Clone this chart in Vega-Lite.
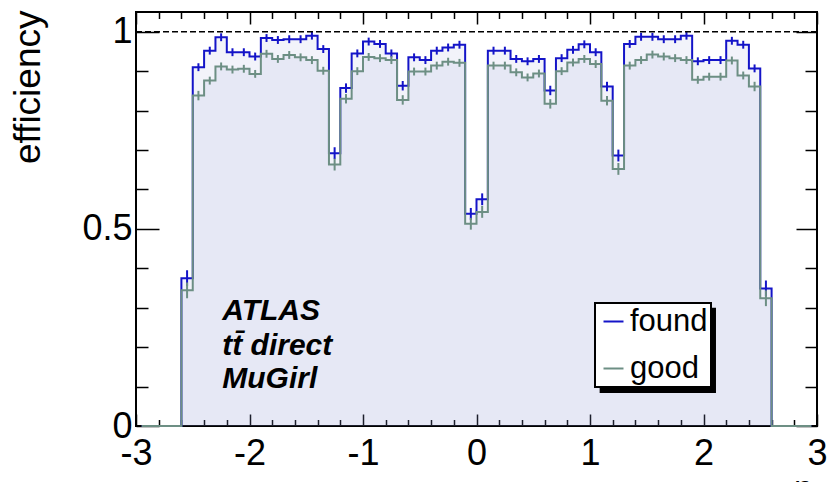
{
  "$schema": "https://vega.github.io/schema/vega-lite/v6.json",
  "width": 681,
  "height": 414,
  "autosize": {"type": "none"},
  "padding": {"left": 136, "top": 12, "right": 12, "bottom": 56},
  "background": "white",
  "config": {
    "view": {"stroke": "black", "strokeWidth": 2},
    "axis": {
      "domain": false,
      "grid": false,
      "tickColor": "black",
      "tickWidth": 1.5,
      "labelFont": "Liberation Sans",
      "labelFontSize": 36,
      "labelColor": "black",
      "labelFlush": false,
      "labelOverlap": false,
      "titleFont": "Liberation Sans",
      "titleFontWeight": "normal",
      "titleColor": "black"
    },
    "legend": {
      "orient": "none",
      "legendX": 459,
      "legendY": 291,
      "symbolType": "stroke",
      "symbolSize": 400,
      "symbolStrokeWidth": 2,
      "labelFont": "Liberation Sans",
      "labelFontSize": 31,
      "labelColor": "black",
      "labelOffset": 1,
      "padding": 3,
      "rowPadding": 15,
      "strokeColor": "black",
      "strokeWidth": 2,
      "fillColor": "white"
    }
  },
  "data": {
    "values": [
      {"eta": -2.95, "series": "found", "eff": 0, "err": 0},
      {"eta": -2.85, "series": "found", "eff": 0, "err": 0},
      {"eta": -2.75, "series": "found", "eff": 0, "err": 0},
      {"eta": -2.65, "series": "found", "eff": 0, "err": 0},
      {"eta": -2.55, "series": "found", "eff": 0.375, "err": 0.02},
      {"eta": -2.45, "series": "found", "eff": 0.910, "err": 0.01},
      {"eta": -2.35, "series": "found", "eff": 0.952, "err": 0.01},
      {"eta": -2.25, "series": "found", "eff": 0.986, "err": 0.01},
      {"eta": -2.15, "series": "found", "eff": 0.948, "err": 0.01},
      {"eta": -2.05, "series": "found", "eff": 0.948, "err": 0.01},
      {"eta": -1.95, "series": "found", "eff": 0.937, "err": 0.01},
      {"eta": -1.85, "series": "found", "eff": 0.984, "err": 0.01},
      {"eta": -1.75, "series": "found", "eff": 0.979, "err": 0.01},
      {"eta": -1.65, "series": "found", "eff": 0.981, "err": 0.01},
      {"eta": -1.55, "series": "found", "eff": 0.981, "err": 0.01},
      {"eta": -1.45, "series": "found", "eff": 0.990, "err": 0.01},
      {"eta": -1.35, "series": "found", "eff": 0.956, "err": 0.01},
      {"eta": -1.25, "series": "found", "eff": 0.692, "err": 0.015},
      {"eta": -1.15, "series": "found", "eff": 0.857, "err": 0.012},
      {"eta": -1.05, "series": "found", "eff": 0.945, "err": 0.01},
      {"eta": -0.95, "series": "found", "eff": 0.975, "err": 0.01},
      {"eta": -0.85, "series": "found", "eff": 0.969, "err": 0.01},
      {"eta": -0.75, "series": "found", "eff": 0.945, "err": 0.01},
      {"eta": -0.65, "series": "found", "eff": 0.863, "err": 0.012},
      {"eta": -0.55, "series": "found", "eff": 0.935, "err": 0.01},
      {"eta": -0.45, "series": "found", "eff": 0.928, "err": 0.01},
      {"eta": -0.35, "series": "found", "eff": 0.952, "err": 0.01},
      {"eta": -0.25, "series": "found", "eff": 0.960, "err": 0.01},
      {"eta": -0.15, "series": "found", "eff": 0.967, "err": 0.01},
      {"eta": -0.05, "series": "found", "eff": 0.538, "err": 0.015},
      {"eta": 0.05, "series": "found", "eff": 0.575, "err": 0.015},
      {"eta": 0.15, "series": "found", "eff": 0.952, "err": 0.01},
      {"eta": 0.25, "series": "found", "eff": 0.952, "err": 0.01},
      {"eta": 0.35, "series": "found", "eff": 0.931, "err": 0.01},
      {"eta": 0.45, "series": "found", "eff": 0.925, "err": 0.01},
      {"eta": 0.55, "series": "found", "eff": 0.931, "err": 0.01},
      {"eta": 0.65, "series": "found", "eff": 0.851, "err": 0.012},
      {"eta": 0.75, "series": "found", "eff": 0.933, "err": 0.01},
      {"eta": 0.85, "series": "found", "eff": 0.954, "err": 0.01},
      {"eta": 0.95, "series": "found", "eff": 0.968, "err": 0.01},
      {"eta": 1.05, "series": "found", "eff": 0.948, "err": 0.01},
      {"eta": 1.15, "series": "found", "eff": 0.861, "err": 0.012},
      {"eta": 1.25, "series": "found", "eff": 0.686, "err": 0.015},
      {"eta": 1.35, "series": "found", "eff": 0.969, "err": 0.01},
      {"eta": 1.45, "series": "found", "eff": 0.987, "err": 0.01},
      {"eta": 1.55, "series": "found", "eff": 0.987, "err": 0.01},
      {"eta": 1.65, "series": "found", "eff": 0.981, "err": 0.01},
      {"eta": 1.75, "series": "found", "eff": 0.981, "err": 0.01},
      {"eta": 1.85, "series": "found", "eff": 0.990, "err": 0.01},
      {"eta": 1.95, "series": "found", "eff": 0.925, "err": 0.01},
      {"eta": 2.05, "series": "found", "eff": 0.928, "err": 0.01},
      {"eta": 2.15, "series": "found", "eff": 0.928, "err": 0.01},
      {"eta": 2.25, "series": "found", "eff": 0.977, "err": 0.01},
      {"eta": 2.35, "series": "found", "eff": 0.967, "err": 0.01},
      {"eta": 2.45, "series": "found", "eff": 0.907, "err": 0.01},
      {"eta": 2.55, "series": "found", "eff": 0.349, "err": 0.02},
      {"eta": 2.65, "series": "found", "eff": 0, "err": 0},
      {"eta": 2.75, "series": "found", "eff": 0, "err": 0},
      {"eta": 2.85, "series": "found", "eff": 0, "err": 0},
      {"eta": 2.95, "series": "found", "eff": 0, "err": 0},
      {"eta": -2.95, "series": "good", "eff": 0, "err": 0},
      {"eta": -2.85, "series": "good", "eff": 0, "err": 0},
      {"eta": -2.75, "series": "good", "eff": 0, "err": 0},
      {"eta": -2.65, "series": "good", "eff": 0, "err": 0},
      {"eta": -2.55, "series": "good", "eff": 0.344, "err": 0.02},
      {"eta": -2.45, "series": "good", "eff": 0.838, "err": 0.012},
      {"eta": -2.35, "series": "good", "eff": 0.876, "err": 0.01},
      {"eta": -2.25, "series": "good", "eff": 0.912, "err": 0.01},
      {"eta": -2.15, "series": "good", "eff": 0.904, "err": 0.01},
      {"eta": -2.05, "series": "good", "eff": 0.906, "err": 0.01},
      {"eta": -1.95, "series": "good", "eff": 0.893, "err": 0.01},
      {"eta": -1.85, "series": "good", "eff": 0.944, "err": 0.01},
      {"eta": -1.75, "series": "good", "eff": 0.931, "err": 0.01},
      {"eta": -1.65, "series": "good", "eff": 0.941, "err": 0.01},
      {"eta": -1.55, "series": "good", "eff": 0.935, "err": 0.01},
      {"eta": -1.45, "series": "good", "eff": 0.928, "err": 0.01},
      {"eta": -1.35, "series": "good", "eff": 0.901, "err": 0.01},
      {"eta": -1.25, "series": "good", "eff": 0.663, "err": 0.015},
      {"eta": -1.15, "series": "good", "eff": 0.830, "err": 0.012},
      {"eta": -1.05, "series": "good", "eff": 0.900, "err": 0.01},
      {"eta": -0.95, "series": "good", "eff": 0.936, "err": 0.01},
      {"eta": -0.85, "series": "good", "eff": 0.933, "err": 0.01},
      {"eta": -0.75, "series": "good", "eff": 0.928, "err": 0.01},
      {"eta": -0.65, "series": "good", "eff": 0.827, "err": 0.012},
      {"eta": -0.55, "series": "good", "eff": 0.899, "err": 0.01},
      {"eta": -0.45, "series": "good", "eff": 0.899, "err": 0.01},
      {"eta": -0.35, "series": "good", "eff": 0.914, "err": 0.01},
      {"eta": -0.25, "series": "good", "eff": 0.924, "err": 0.01},
      {"eta": -0.15, "series": "good", "eff": 0.921, "err": 0.01},
      {"eta": -0.05, "series": "good", "eff": 0.513, "err": 0.015},
      {"eta": 0.05, "series": "good", "eff": 0.543, "err": 0.015},
      {"eta": 0.15, "series": "good", "eff": 0.914, "err": 0.01},
      {"eta": 0.25, "series": "good", "eff": 0.914, "err": 0.01},
      {"eta": 0.35, "series": "good", "eff": 0.897, "err": 0.01},
      {"eta": 0.45, "series": "good", "eff": 0.884, "err": 0.01},
      {"eta": 0.55, "series": "good", "eff": 0.894, "err": 0.01},
      {"eta": 0.65, "series": "good", "eff": 0.817, "err": 0.012},
      {"eta": 0.75, "series": "good", "eff": 0.900, "err": 0.01},
      {"eta": 0.85, "series": "good", "eff": 0.922, "err": 0.01},
      {"eta": 0.95, "series": "good", "eff": 0.931, "err": 0.01},
      {"eta": 1.05, "series": "good", "eff": 0.918, "err": 0.01},
      {"eta": 1.15, "series": "good", "eff": 0.825, "err": 0.012},
      {"eta": 1.25, "series": "good", "eff": 0.652, "err": 0.015},
      {"eta": 1.35, "series": "good", "eff": 0.914, "err": 0.01},
      {"eta": 1.45, "series": "good", "eff": 0.928, "err": 0.01},
      {"eta": 1.55, "series": "good", "eff": 0.942, "err": 0.01},
      {"eta": 1.65, "series": "good", "eff": 0.937, "err": 0.01},
      {"eta": 1.75, "series": "good", "eff": 0.933, "err": 0.01},
      {"eta": 1.85, "series": "good", "eff": 0.928, "err": 0.01},
      {"eta": 1.95, "series": "good", "eff": 0.878, "err": 0.01},
      {"eta": 2.05, "series": "good", "eff": 0.886, "err": 0.01},
      {"eta": 2.15, "series": "good", "eff": 0.886, "err": 0.01},
      {"eta": 2.25, "series": "good", "eff": 0.927, "err": 0.01},
      {"eta": 2.35, "series": "good", "eff": 0.889, "err": 0.01},
      {"eta": 2.45, "series": "good", "eff": 0.861, "err": 0.012},
      {"eta": 2.55, "series": "good", "eff": 0.324, "err": 0.02},
      {"eta": 2.65, "series": "good", "eff": 0, "err": 0},
      {"eta": 2.75, "series": "good", "eff": 0, "err": 0},
      {"eta": 2.85, "series": "good", "eff": 0, "err": 0},
      {"eta": 2.95, "series": "good", "eff": 0, "err": 0}
    ]
  },
  "layer": [
    {
      "mark": {"type": "area", "interpolate": "step", "fill": "#8c91d4", "fillOpacity": 0.11},
      "encoding": {
        "x": {
          "field": "eta", "type": "quantitative",
          "scale": {"domain": [-3, 3], "nice": false, "zero": false},
          "axis": {
            "orient": "bottom", "values": [-3, -2, -1, 0, 1, 2, 3],
            "tickSize": -12, "labelPadding": 22,
            "labelExpr": "'' + datum.value",
            "title": "η", "titleFontSize": 32,
            "titleX": 667, "titleY": 71, "titleAlign": "center", "titleBaseline": "alphabetic"
          }
        },
        "y": {
          "field": "eff", "type": "quantitative", "stack": null,
          "scale": {"domain": [0, 1.05], "nice": false, "zero": false},
          "axis": {
            "orient": "left", "values": [0, 0.5, 1],
            "tickSize": -23, "labelPadding": 27,
            "labelExpr": "'' + datum.value",
            "title": "efficiency", "titleFontSize": 37,
            "titleAngle": -90, "titleAlign": "right", "titleBaseline": "middle",
            "titleX": -108, "titleY": -2
          }
        },
        "detail": {"field": "series"}
      }
    },
    {
      "mark": {"type": "line", "interpolate": "step", "strokeWidth": 2},
      "encoding": {
        "x": {
          "field": "eta", "type": "quantitative",
          "scale": {"domain": [-3, 3], "nice": false, "zero": false},
          "axis": {"orient": "top", "values": [-3, -2, -1, 0, 1, 2, 3], "tickSize": -12, "labels": false, "title": null}
        },
        "y": {
          "field": "eff", "type": "quantitative",
          "scale": {"domain": [0, 1.05], "nice": false, "zero": false},
          "axis": {"orient": "right", "values": [0, 0.5, 1], "tickSize": -21, "labels": false, "title": null}
        },
        "color": {
          "field": "series", "type": "nominal",
          "scale": {"domain": ["found", "good"], "range": ["#1414c8", "#6d8f84"]},
          "legend": {"title": null}
        }
      }
    },
    {
      "transform": [{"filter": "datum.eff > 0"}],
      "mark": {"type": "errorbar", "thickness": 2},
      "encoding": {
        "x": {
          "field": "eta", "type": "quantitative",
          "scale": {"domain": [-3, 3], "nice": false, "zero": false},
          "axis": null
        },
        "y": {
          "field": "eff", "type": "quantitative",
          "scale": {"domain": [0, 1.05], "nice": false, "zero": false},
          "axis": null
        },
        "yError": {"field": "err"},
        "color": {"field": "series", "type": "nominal", "legend": null}
      }
    },
    {
      "data": {"values": [{}]},
      "mark": {"type": "rule", "color": "black", "strokeWidth": 1.5, "strokeDash": [6, 3]},
      "encoding": {
        "y": {
          "datum": 1, "type": "quantitative",
          "scale": {"domain": [0, 1.05], "nice": false, "zero": false},
          "axis": {"orient": "left", "values": [0.1, 0.2, 0.3, 0.4, 0.6, 0.7, 0.8, 0.9], "tickSize": -12, "labels": false, "title": null}
        }
      }
    },
    {
      "data": {"values": [{}]},
      "mark": {"type": "text", "font": "Liberation Sans", "fontSize": 30, "fontWeight": "bold", "fontStyle": "italic", "align": "left", "baseline": "alphabetic", "color": "black"},
      "encoding": {
        "x": {
          "datum": -2.24, "type": "quantitative",
          "scale": {"domain": [-3, 3], "nice": false, "zero": false},
          "axis": {"orient": "bottom", "values": [-2.8, -2.6, -2.4, -2.2, -1.8, -1.6, -1.4, -1.2, -0.8, -0.6, -0.4, -0.2, 0.2, 0.4, 0.6, 0.8, 1.2, 1.4, 1.6, 1.8, 2.2, 2.4, 2.6, 2.8], "tickSize": -6.5, "labels": false, "title": null}
        },
        "y": {
          "datum": 0.268, "type": "quantitative",
          "scale": {"domain": [0, 1.05], "nice": false, "zero": false},
          "axis": {"orient": "right", "values": [0.1, 0.2, 0.3, 0.4, 0.6, 0.7, 0.8, 0.9], "tickSize": -12, "labels": false, "title": null}
        },
        "text": {"value": "ATLAS"}
      }
    },
    {
      "data": {"values": [{}]},
      "mark": {"type": "text", "font": "Liberation Sans", "fontSize": 30, "fontWeight": "bold", "fontStyle": "italic", "align": "left", "baseline": "alphabetic", "color": "black"},
      "encoding": {
        "x": {
          "datum": -2.24, "type": "quantitative",
          "scale": {"domain": [-3, 3], "nice": false, "zero": false},
          "axis": {"orient": "top", "values": [-2.8, -2.6, -2.4, -2.2, -1.8, -1.6, -1.4, -1.2, -0.8, -0.6, -0.4, -0.2, 0.2, 0.4, 0.6, 0.8, 1.2, 1.4, 1.6, 1.8, 2.2, 2.4, 2.6, 2.8], "tickSize": -6.5, "labels": false, "title": null}
        },
        "y": {
          "datum": 0.18, "type": "quantitative",
          "scale": {"domain": [0, 1.05], "nice": false, "zero": false},
          "axis": null
        },
        "text": {"value": "tt̄ direct"}
      }
    },
    {
      "data": {"values": [{}]},
      "mark": {"type": "text", "font": "Liberation Sans", "fontSize": 30, "fontWeight": "bold", "fontStyle": "italic", "align": "left", "baseline": "alphabetic", "color": "black"},
      "encoding": {
        "x": {
          "datum": -2.24, "type": "quantitative",
          "scale": {"domain": [-3, 3], "nice": false, "zero": false},
          "axis": null
        },
        "y": {
          "datum": 0.096, "type": "quantitative",
          "scale": {"domain": [0, 1.05], "nice": false, "zero": false},
          "axis": null
        },
        "text": {"value": "MuGirl"}
      }
    },
    {
      "data": {"values": [{}]},
      "mark": {"type": "rect", "fill": "black"},
      "encoding": {
        "x": {"datum": 1.085, "type": "quantitative", "scale": {"domain": [-3, 3], "nice": false, "zero": false}, "axis": null},
        "x2": {"datum": 2.11},
        "y": {"datum": 0.3, "type": "quantitative", "scale": {"domain": [0, 1.05], "nice": false, "zero": false}, "axis": null},
        "y2": {"datum": 0.084}
      }
    }
  ],
  "resolve": {"axis": {"x": "independent", "y": "independent"}}
}
